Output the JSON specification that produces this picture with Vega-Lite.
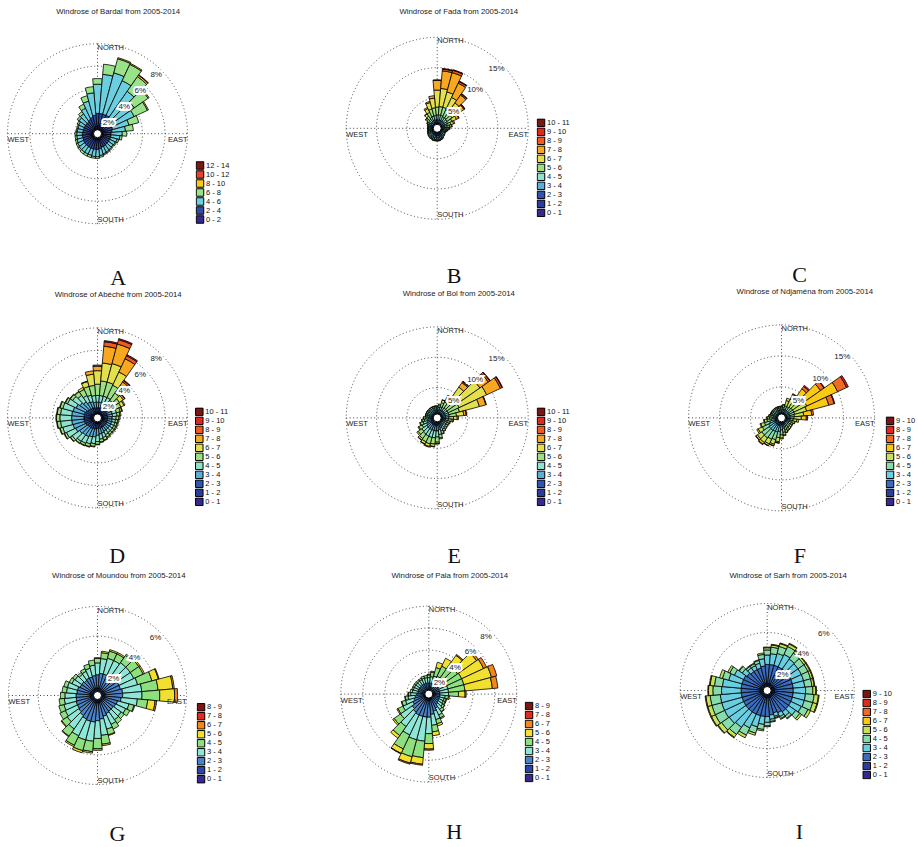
{
"$schema": "https://vega.github.io/schema/vega-lite/v6.json",
"background": "white",
"padding": {"left": 5.5, "top": 7, "right": 0, "bottom": 5},
"datasets": {"rose": [
{"p":"A","d":0,"v":[0.7,1.1,2.6,0.5]},{"p":"A","d":10,"v":[0.7,1.1,3.5,0.9]},{"p":"A","d":20,"v":[0.7,1.1,3.8,1.3,0.1]},{"p":"A","d":30,"v":[0.7,1.1,3.4,1.6,0.1]},{"p":"A","d":40,"v":[0.7,1.0,2.9,1.6,0.15,0.05]},{"p":"A","d":50,"v":[0.6,1.0,2.4,1.5,0.1]},{"p":"A","d":60,"v":[0.6,0.9,2.1,1.3,0.1]},{"p":"A","d":70,"v":[0.6,0.8,1.5,0.9]},{"p":"A","d":80,"v":[0.5,0.8,1.2,0.7]},{"p":"A","d":90,"v":[0.5,0.7,1.0,0.4]},{"p":"A","d":100,"v":[0.5,0.7,0.8,0.2]},{"p":"A","d":110,"v":[0.5,0.7,0.6,0.15]},{"p":"A","d":120,"v":[0.5,0.7,0.55,0.1]},{"p":"A","d":130,"v":[0.5,0.7,0.5,0.1]},{"p":"A","d":140,"v":[0.5,0.7,0.55,0.1]},{"p":"A","d":150,"v":[0.5,0.75,0.55,0.1]},{"p":"A","d":160,"v":[0.5,0.75,0.6,0.1]},{"p":"A","d":170,"v":[0.55,0.8,0.6,0.15]},{"p":"A","d":180,"v":[0.55,0.85,0.65,0.15]},{"p":"A","d":190,"v":[0.55,0.85,0.65,0.15]},{"p":"A","d":200,"v":[0.55,0.85,0.6,0.2]},{"p":"A","d":210,"v":[0.55,0.85,0.6,0.2]},{"p":"A","d":220,"v":[0.55,0.85,0.6,0.2]},{"p":"A","d":230,"v":[0.55,0.85,0.6,0.15]},{"p":"A","d":240,"v":[0.55,0.85,0.55,0.15]},{"p":"A","d":250,"v":[0.55,0.8,0.55,0.15]},{"p":"A","d":260,"v":[0.55,0.8,0.5,0.15]},{"p":"A","d":270,"v":[0.55,0.8,0.5,0.15]},{"p":"A","d":280,"v":[0.5,0.8,0.5,0.1]},{"p":"A","d":290,"v":[0.5,0.8,0.5,0.1]},{"p":"A","d":300,"v":[0.5,0.8,0.55,0.15]},{"p":"A","d":310,"v":[0.5,0.8,0.7,0.2]},{"p":"A","d":320,"v":[0.5,0.8,0.85,0.25]},{"p":"A","d":330,"v":[0.55,0.85,1.1,0.4]},{"p":"A","d":340,"v":[0.6,0.9,1.5,0.5]},{"p":"A","d":350,"v":[0.65,1.0,2.0,0.55]},
{"p":"B","d":0,"v":[0.2,0.3,0.4,0.5,0.8,1.3,2.8,1.6,0.1]},{"p":"B","d":10,"v":[0.2,0.3,0.4,0.5,0.8,1.4,3.0,2.9,0.3,0.1]},{"p":"B","d":20,"v":[0.2,0.3,0.4,0.5,0.8,1.4,2.6,3.3,0.4,0.1]},{"p":"B","d":30,"v":[0.2,0.3,0.4,0.5,0.7,1.3,2.2,2.6,0.3,0.1]},{"p":"B","d":40,"v":[0.2,0.3,0.4,0.5,0.7,1.2,1.8,1.6,0.2,0.1]},{"p":"B","d":50,"v":[0.2,0.3,0.4,0.5,0.6,1.0,1.4,1.0,0.15,0.05]},{"p":"B","d":60,"v":[0.2,0.3,0.4,0.5,0.5,0.8,0.8,0.4,0.1]},{"p":"B","d":70,"v":[0.2,0.3,0.35,0.45,0.45,0.6,0.45,0.2]},{"p":"B","d":80,"v":[0.2,0.3,0.35,0.4,0.4,0.45,0.3,0.1]},{"p":"B","d":90,"v":[0.2,0.3,0.35,0.4,0.35,0.3,0.15,0.05]},{"p":"B","d":100,"v":[0.27,0.36,0.4,0.36,0.23,0.13,0.05]},{"p":"B","d":110,"v":[0.24,0.32,0.35,0.32,0.21,0.11,0.05]},{"p":"B","d":120,"v":[0.23,0.3,0.33,0.3,0.19,0.1,0.05]},{"p":"B","d":130,"v":[0.24,0.32,0.35,0.32,0.21,0.11,0.05]},{"p":"B","d":140,"v":[0.26,0.34,0.37,0.34,0.22,0.12,0.05]},{"p":"B","d":150,"v":[0.28,0.38,0.42,0.38,0.25,0.13,0.06]},{"p":"B","d":160,"v":[0.3,0.4,0.44,0.4,0.26,0.14,0.06]},{"p":"B","d":170,"v":[0.31,0.42,0.46,0.42,0.28,0.15,0.06]},{"p":"B","d":180,"v":[0.31,0.42,0.46,0.42,0.28,0.15,0.06]},{"p":"B","d":190,"v":[0.31,0.42,0.46,0.42,0.28,0.15,0.06]},{"p":"B","d":200,"v":[0.31,0.42,0.46,0.42,0.28,0.15,0.06]},{"p":"B","d":210,"v":[0.3,0.4,0.44,0.4,0.26,0.14,0.06]},{"p":"B","d":220,"v":[0.3,0.4,0.44,0.4,0.26,0.14,0.06]},{"p":"B","d":230,"v":[0.28,0.38,0.42,0.38,0.25,0.13,0.06]},{"p":"B","d":240,"v":[0.27,0.36,0.4,0.36,0.23,0.13,0.05]},{"p":"B","d":250,"v":[0.26,0.34,0.37,0.34,0.22,0.12,0.05]},{"p":"B","d":260,"v":[0.24,0.32,0.35,0.32,0.21,0.11,0.05]},{"p":"B","d":270,"v":[0.24,0.32,0.35,0.32,0.21,0.11,0.05]},{"p":"B","d":280,"v":[0.24,0.32,0.35,0.32,0.21,0.11,0.05]},{"p":"B","d":290,"v":[0.26,0.34,0.37,0.34,0.22,0.12,0.05]},{"p":"B","d":300,"v":[0.2,0.3,0.35,0.35,0.3,0.25,0.1,0.05]},{"p":"B","d":310,"v":[0.2,0.3,0.35,0.4,0.4,0.45,0.25,0.05]},{"p":"B","d":320,"v":[0.2,0.3,0.4,0.45,0.5,0.6,0.45,0.1]},{"p":"B","d":330,"v":[0.2,0.3,0.4,0.5,0.6,0.9,0.7,0.2]},{"p":"B","d":340,"v":[0.2,0.3,0.4,0.5,0.7,1.2,1.1,0.2]},{"p":"B","d":350,"v":[0.2,0.3,0.4,0.5,0.7,1.3,1.6,0.4]},
{"p":"D","d":0,"v":[0.2,0.3,0.4,0.5,0.6,1.0,1.2,0.4,0.1]},{"p":"D","d":10,"v":[0.2,0.3,0.4,0.5,0.6,1.3,1.6,1.5,0.4,0.1]},{"p":"D","d":20,"v":[0.2,0.3,0.4,0.5,0.6,1.3,1.7,1.8,0.4,0.1]},{"p":"D","d":30,"v":[0.2,0.3,0.4,0.5,0.6,1.2,1.3,1.3,0.3,0.1]},{"p":"D","d":40,"v":[0.2,0.3,0.4,0.5,0.5,0.8,0.8,0.4,0.15,0.05]},{"p":"D","d":50,"v":[0.2,0.3,0.4,0.45,0.45,0.6,0.4,0.15,0.05]},{"p":"D","d":60,"v":[0.2,0.3,0.4,0.45,0.45,0.5,0.3,0.1]},{"p":"D","d":70,"v":[0.2,0.3,0.4,0.45,0.4,0.35,0.15,0.05]},{"p":"D","d":80,"v":[0.2,0.3,0.4,0.45,0.4,0.25,0.1]},{"p":"D","d":90,"v":[0.2,0.3,0.4,0.4,0.35,0.25,0.1]},{"p":"D","d":100,"v":[0.2,0.3,0.4,0.4,0.3,0.2,0.1]},{"p":"D","d":110,"v":[0.2,0.3,0.4,0.4,0.3,0.2,0.1]},{"p":"D","d":120,"v":[0.2,0.3,0.4,0.4,0.3,0.2,0.1]},{"p":"D","d":130,"v":[0.2,0.3,0.4,0.4,0.3,0.2,0.1]},{"p":"D","d":140,"v":[0.2,0.3,0.4,0.4,0.3,0.2,0.1]},{"p":"D","d":150,"v":[0.2,0.3,0.4,0.4,0.35,0.25,0.1]},{"p":"D","d":160,"v":[0.2,0.3,0.45,0.45,0.4,0.25,0.05]},{"p":"D","d":170,"v":[0.2,0.3,0.45,0.5,0.45,0.25,0.05]},{"p":"D","d":180,"v":[0.2,0.3,0.45,0.6,0.55,0.25,0.05]},{"p":"D","d":190,"v":[0.2,0.3,0.5,0.7,0.6,0.25,0.05]},{"p":"D","d":200,"v":[0.2,0.3,0.5,0.75,0.65,0.25,0.05]},{"p":"D","d":210,"v":[0.2,0.3,0.55,0.8,0.65,0.2,0.05]},{"p":"D","d":220,"v":[0.2,0.3,0.55,0.8,0.7,0.2,0.05]},{"p":"D","d":230,"v":[0.2,0.3,0.55,0.9,0.8,0.2,0.05]},{"p":"D","d":240,"v":[0.25,0.35,0.55,1.0,0.9,0.2,0.05]},{"p":"D","d":250,"v":[0.25,0.35,0.6,1.05,0.95,0.25,0.05]},{"p":"D","d":260,"v":[0.25,0.35,0.6,1.1,1.0,0.3,0.05]},{"p":"D","d":270,"v":[0.25,0.35,0.6,1.1,1.05,0.3,0.05]},{"p":"D","d":280,"v":[0.25,0.35,0.6,1.1,1.0,0.3,0.05]},{"p":"D","d":290,"v":[0.25,0.35,0.6,1.05,0.95,0.25,0.05]},{"p":"D","d":300,"v":[0.25,0.35,0.55,0.95,0.85,0.2,0.05]},{"p":"D","d":310,"v":[0.2,0.3,0.55,0.85,0.8,0.25,0.05]},{"p":"D","d":320,"v":[0.2,0.3,0.5,0.75,0.7,0.4,0.05]},{"p":"D","d":330,"v":[0.2,0.3,0.45,0.6,0.65,0.6,0.2]},{"p":"D","d":340,"v":[0.2,0.3,0.45,0.55,0.6,0.8,0.45,0.05]},{"p":"D","d":350,"v":[0.2,0.3,0.4,0.5,0.6,0.9,1.0,0.3]},
{"p":"E","d":0,"v":[0.2,0.3,0.4,0.4,0.35,0.25,0.1]},{"p":"E","d":10,"v":[0.2,0.3,0.4,0.45,0.4,0.4,0.15]},{"p":"E","d":20,"v":[0.2,0.3,0.4,0.5,0.5,0.7,0.45,0.05]},{"p":"E","d":30,"v":[0.2,0.3,0.4,0.5,0.5,1.0,1.0,0.2]},{"p":"E","d":40,"v":[0.2,0.3,0.4,0.5,0.6,1.6,2.6,0.9,0.2,0.1]},{"p":"E","d":50,"v":[0.2,0.3,0.4,0.5,0.6,2.0,4.6,1.7,0.3,0.1]},{"p":"E","d":60,"v":[0.2,0.3,0.4,0.5,0.6,2.0,5.0,2.5,0.3,0.1]},{"p":"E","d":70,"v":[0.2,0.3,0.4,0.5,0.6,1.8,3.4,1.1,0.1]},{"p":"E","d":80,"v":[0.2,0.3,0.4,0.5,0.6,1.2,1.2,0.4,0.1]},{"p":"E","d":90,"v":[0.2,0.3,0.4,0.5,0.5,0.8,0.6,0.2]},{"p":"E","d":100,"v":[0.2,0.3,0.4,0.5,0.45,0.5,0.3,0.05]},{"p":"E","d":110,"v":[0.2,0.3,0.4,0.45,0.4,0.4,0.15]},{"p":"E","d":120,"v":[0.2,0.3,0.4,0.45,0.4,0.35,0.1]},{"p":"E","d":130,"v":[0.2,0.3,0.4,0.45,0.4,0.35,0.1]},{"p":"E","d":140,"v":[0.2,0.3,0.45,0.5,0.45,0.3,0.1]},{"p":"E","d":150,"v":[0.2,0.3,0.5,0.55,0.5,0.35,0.1]},{"p":"E","d":160,"v":[0.2,0.3,0.5,0.65,0.6,0.45,0.1]},{"p":"E","d":170,"v":[0.25,0.35,0.55,0.8,0.8,0.6,0.15]},{"p":"E","d":180,"v":[0.25,0.4,0.6,0.9,1.0,0.85,0.25,0.05]},{"p":"E","d":190,"v":[0.25,0.4,0.6,0.9,1.15,1.05,0.4,0.05]},{"p":"E","d":200,"v":[0.25,0.4,0.6,0.9,1.2,1.1,0.45,0.1]},{"p":"E","d":210,"v":[0.25,0.4,0.6,0.9,1.15,1.05,0.4,0.05]},{"p":"E","d":220,"v":[0.25,0.4,0.6,0.9,1.1,0.9,0.3,0.05]},{"p":"E","d":230,"v":[0.25,0.4,0.6,0.85,1.0,0.75,0.25]},{"p":"E","d":240,"v":[0.25,0.35,0.55,0.8,0.8,0.6,0.15]},{"p":"E","d":250,"v":[0.2,0.3,0.5,0.7,0.7,0.5,0.1]},{"p":"E","d":260,"v":[0.2,0.3,0.5,0.6,0.55,0.4,0.05]},{"p":"E","d":270,"v":[0.2,0.3,0.45,0.5,0.45,0.35,0.05]},{"p":"E","d":280,"v":[0.2,0.3,0.4,0.45,0.35,0.25,0.05]},{"p":"E","d":290,"v":[0.2,0.3,0.4,0.45,0.35,0.25,0.05]},{"p":"E","d":300,"v":[0.2,0.3,0.4,0.45,0.35,0.25,0.05]},{"p":"E","d":310,"v":[0.2,0.3,0.4,0.45,0.35,0.25,0.05]},{"p":"E","d":320,"v":[0.2,0.3,0.4,0.45,0.35,0.25,0.05]},{"p":"E","d":330,"v":[0.2,0.3,0.4,0.45,0.35,0.25,0.05]},{"p":"E","d":340,"v":[0.2,0.3,0.4,0.45,0.35,0.25,0.05]},{"p":"E","d":350,"v":[0.2,0.3,0.4,0.45,0.35,0.25,0.05]},
{"p":"F","d":0,"v":[0.2,0.3,0.4,0.4,0.35,0.2,0.05]},{"p":"F","d":10,"v":[0.2,0.3,0.4,0.45,0.4,0.35,0.1]},{"p":"F","d":20,"v":[0.2,0.3,0.4,0.5,0.6,0.9,0.4]},{"p":"F","d":30,"v":[0.2,0.3,0.4,0.5,0.6,1.3,0.9,0.1]},{"p":"F","d":40,"v":[0.2,0.3,0.4,0.5,0.7,1.8,1.8,0.5,0.2]},{"p":"F","d":50,"v":[0.2,0.3,0.4,0.5,0.8,2.2,3.3,0.7,0.1]},{"p":"F","d":60,"v":[0.2,0.3,0.4,0.5,0.8,2.3,5.5,1.6,0.3]},{"p":"F","d":70,"v":[0.2,0.3,0.4,0.5,0.8,2.0,3.7,0.9,0.1]},{"p":"F","d":80,"v":[0.2,0.3,0.4,0.5,0.7,1.5,1.3,0.3]},{"p":"F","d":90,"v":[0.2,0.3,0.4,0.5,0.6,1.2,0.8,0.2]},{"p":"F","d":100,"v":[0.2,0.3,0.4,0.5,0.5,0.6,0.3]},{"p":"F","d":110,"v":[0.2,0.3,0.4,0.45,0.45,0.4,0.1]},{"p":"F","d":120,"v":[0.2,0.3,0.4,0.45,0.4,0.3,0.05]},{"p":"F","d":130,"v":[0.2,0.3,0.4,0.45,0.4,0.3,0.05]},{"p":"F","d":140,"v":[0.2,0.3,0.4,0.45,0.45,0.35,0.05]},{"p":"F","d":150,"v":[0.2,0.3,0.45,0.5,0.45,0.35,0.05]},{"p":"F","d":160,"v":[0.2,0.3,0.45,0.55,0.55,0.4,0.05]},{"p":"F","d":170,"v":[0.2,0.35,0.5,0.65,0.65,0.45,0.1]},{"p":"F","d":180,"v":[0.25,0.35,0.55,0.8,0.8,0.5,0.15]},{"p":"F","d":190,"v":[0.25,0.4,0.6,0.95,1.0,0.65,0.2,0.05]},{"p":"F","d":200,"v":[0.25,0.4,0.6,1.1,1.3,0.75,0.25,0.05]},{"p":"F","d":210,"v":[0.25,0.4,0.6,1.15,1.4,0.85,0.3,0.05]},{"p":"F","d":220,"v":[0.25,0.4,0.6,1.2,1.5,0.9,0.35,0.1]},{"p":"F","d":230,"v":[0.25,0.4,0.6,1.2,1.45,0.85,0.3,0.05]},{"p":"F","d":240,"v":[0.25,0.4,0.6,1.0,1.15,0.75,0.25]},{"p":"F","d":250,"v":[0.25,0.35,0.55,0.85,0.85,0.6,0.15]},{"p":"F","d":260,"v":[0.2,0.35,0.5,0.65,0.65,0.45,0.1]},{"p":"F","d":270,"v":[0.2,0.3,0.45,0.5,0.5,0.35,0.1]},{"p":"F","d":280,"v":[0.2,0.3,0.4,0.45,0.4,0.3,0.05]},{"p":"F","d":290,"v":[0.2,0.3,0.4,0.4,0.35,0.2,0.05]},{"p":"F","d":300,"v":[0.2,0.3,0.4,0.4,0.35,0.2,0.05]},{"p":"F","d":310,"v":[0.2,0.3,0.4,0.4,0.35,0.2,0.05]},{"p":"F","d":320,"v":[0.2,0.3,0.4,0.4,0.35,0.2,0.05]},{"p":"F","d":330,"v":[0.2,0.3,0.4,0.4,0.35,0.2,0.05]},{"p":"F","d":340,"v":[0.2,0.3,0.4,0.4,0.35,0.2,0.05]},{"p":"F","d":350,"v":[0.2,0.3,0.4,0.4,0.35,0.2,0.05]},
{"p":"G","d":0,"v":[0.1,0.4,0.9,0.8,0.3,0.05]},{"p":"G","d":10,"v":[0.1,0.4,1.0,1.0,0.4,0.1]},{"p":"G","d":20,"v":[0.1,0.4,1.0,1.1,0.5,0.1]},{"p":"G","d":30,"v":[0.1,0.4,1.0,1.1,0.5,0.1]},{"p":"G","d":40,"v":[0.1,0.4,1.05,1.15,0.6,0.1]},{"p":"G","d":50,"v":[0.1,0.4,1.1,1.1,0.7,0.1]},{"p":"G","d":60,"v":[0.1,0.4,1.1,1.1,0.7,0.1]},{"p":"G","d":70,"v":[0.1,0.4,1.1,1.2,1.0,0.45,0.05]},{"p":"G","d":80,"v":[0.1,0.4,1.2,1.3,1.1,1.0,0.1]},{"p":"G","d":90,"v":[0.1,0.4,1.2,1.3,1.2,1.0,0.2]},{"p":"G","d":100,"v":[0.1,0.4,1.1,1.1,0.7,0.5,0.1]},{"p":"G","d":110,"v":[0.1,0.4,0.9,0.8,0.35,0.05]},{"p":"G","d":120,"v":[0.1,0.4,0.85,0.75,0.3]},{"p":"G","d":130,"v":[0.1,0.4,0.8,0.65,0.25]},{"p":"G","d":140,"v":[0.1,0.4,0.8,0.7,0.3]},{"p":"G","d":150,"v":[0.1,0.4,0.85,0.8,0.35]},{"p":"G","d":160,"v":[0.1,0.4,0.95,0.9,0.4,0.05]},{"p":"G","d":170,"v":[0.1,0.4,1.1,1.1,0.6,0.1]},{"p":"G","d":180,"v":[0.1,0.4,1.2,1.2,0.7,0.1]},{"p":"G","d":190,"v":[0.1,0.4,1.3,1.3,0.7,0.1]},{"p":"G","d":200,"v":[0.1,0.4,1.3,1.3,0.75,0.15]},{"p":"G","d":210,"v":[0.1,0.4,1.25,1.25,0.7,0.1]},{"p":"G","d":220,"v":[0.1,0.4,1.15,1.1,0.6,0.05]},{"p":"G","d":230,"v":[0.1,0.4,1.05,0.95,0.45,0.05]},{"p":"G","d":240,"v":[0.1,0.4,1.0,0.9,0.4]},{"p":"G","d":250,"v":[0.1,0.4,1.0,0.85,0.35]},{"p":"G","d":260,"v":[0.1,0.4,0.95,0.8,0.35]},{"p":"G","d":270,"v":[0.1,0.4,0.95,0.75,0.3]},{"p":"G","d":280,"v":[0.1,0.4,0.9,0.7,0.3]},{"p":"G","d":290,"v":[0.1,0.4,0.9,0.7,0.25]},{"p":"G","d":300,"v":[0.1,0.4,0.8,0.6,0.2]},{"p":"G","d":310,"v":[0.1,0.4,0.8,0.55,0.2]},{"p":"G","d":320,"v":[0.1,0.4,0.75,0.5,0.15]},{"p":"G","d":330,"v":[0.1,0.4,0.8,0.5,0.2]},{"p":"G","d":340,"v":[0.1,0.4,0.8,0.6,0.3]},{"p":"G","d":350,"v":[0.1,0.4,0.85,0.7,0.35]},
{"p":"H","d":0,"v":[0.1,0.3,0.6,0.5,0.25,0.05]},{"p":"H","d":10,"v":[0.1,0.3,0.6,0.6,0.4,0.1]},{"p":"H","d":20,"v":[0.1,0.3,0.6,0.7,0.8,0.5]},{"p":"H","d":30,"v":[0.1,0.3,0.6,0.8,1.0,0.8]},{"p":"H","d":40,"v":[0.1,0.3,0.6,0.8,1.2,1.3,0.1]},{"p":"H","d":50,"v":[0.1,0.3,0.6,0.8,1.4,2.1,0.2]},{"p":"H","d":60,"v":[0.1,0.3,0.6,0.8,1.5,2.2,0.3]},{"p":"H","d":70,"v":[0.1,0.3,0.6,0.8,1.5,2.6,0.5]},{"p":"H","d":80,"v":[0.1,0.3,0.6,0.8,1.5,2.5,0.5]},{"p":"H","d":90,"v":[0.1,0.3,0.6,0.8,0.9,0.6,0.1]},{"p":"H","d":100,"v":[0.1,0.3,0.6,0.5,0.3,0.1]},{"p":"H","d":110,"v":[0.1,0.3,0.6,0.45,0.2,0.05]},{"p":"H","d":120,"v":[0.1,0.3,0.6,0.45,0.2,0.05]},{"p":"H","d":130,"v":[0.1,0.3,0.65,0.5,0.2,0.05]},{"p":"H","d":140,"v":[0.1,0.35,0.7,0.55,0.25,0.05]},{"p":"H","d":150,"v":[0.1,0.4,0.9,0.7,0.3,0.1]},{"p":"H","d":160,"v":[0.1,0.4,1.1,0.8,0.4,0.2]},{"p":"H","d":170,"v":[0.1,0.45,1.3,1.0,0.6,0.35]},{"p":"H","d":180,"v":[0.1,0.5,1.5,1.5,0.9,0.5,0.1]},{"p":"H","d":190,"v":[0.1,0.5,1.5,2.2,1.5,0.6,0.1]},{"p":"H","d":200,"v":[0.1,0.5,1.5,2.2,1.6,0.6,0.1]},{"p":"H","d":210,"v":[0.1,0.5,1.5,2.0,1.4,0.45,0.05]},{"p":"H","d":220,"v":[0.1,0.5,1.4,1.6,1.0,0.3]},{"p":"H","d":230,"v":[0.1,0.45,1.3,1.3,0.7,0.15]},{"p":"H","d":240,"v":[0.1,0.4,1.1,1.0,0.5,0.1]},{"p":"H","d":250,"v":[0.1,0.4,0.9,0.8,0.35,0.05]},{"p":"H","d":260,"v":[0.1,0.35,0.8,0.65,0.25,0.05]},{"p":"H","d":270,"v":[0.1,0.3,0.7,0.55,0.2,0.05]},{"p":"H","d":280,"v":[0.1,0.3,0.6,0.5,0.2]},{"p":"H","d":290,"v":[0.1,0.3,0.6,0.45,0.15]},{"p":"H","d":300,"v":[0.1,0.3,0.6,0.45,0.15]},{"p":"H","d":310,"v":[0.1,0.3,0.6,0.45,0.15]},{"p":"H","d":320,"v":[0.1,0.3,0.6,0.45,0.15]},{"p":"H","d":330,"v":[0.1,0.3,0.6,0.45,0.15]},{"p":"H","d":340,"v":[0.1,0.3,0.6,0.5,0.2]},{"p":"H","d":350,"v":[0.1,0.3,0.6,0.5,0.2]},
{"p":"I","d":0,"v":[0.1,0.4,1.3,0.65,0.35,0.15,0.05]},{"p":"I","d":10,"v":[0.1,0.4,1.3,0.75,0.45,0.15,0.05]},{"p":"I","d":20,"v":[0.1,0.4,1.3,0.85,0.5,0.2,0.05]},{"p":"I","d":30,"v":[0.1,0.4,1.3,0.95,0.6,0.2,0.05]},{"p":"I","d":40,"v":[0.1,0.4,1.3,0.85,0.5,0.2,0.05]},{"p":"I","d":50,"v":[0.1,0.4,1.3,0.8,0.5,0.15,0.05]},{"p":"I","d":60,"v":[0.1,0.4,1.3,0.8,0.5,0.15,0.05]},{"p":"I","d":70,"v":[0.1,0.4,1.3,0.8,0.5,0.15,0.05]},{"p":"I","d":80,"v":[0.1,0.4,1.3,0.8,0.5,0.15,0.05]},{"p":"I","d":90,"v":[0.1,0.4,1.3,0.85,0.5,0.2,0.05]},{"p":"I","d":100,"v":[0.1,0.4,1.3,0.85,0.6,0.3,0.05]},{"p":"I","d":110,"v":[0.1,0.4,1.3,0.85,0.6,0.3,0.05]},{"p":"I","d":120,"v":[0.1,0.4,1.3,0.8,0.5,0.2]},{"p":"I","d":130,"v":[0.1,0.4,1.3,0.6,0.35,0.15]},{"p":"I","d":140,"v":[0.1,0.4,1.3,0.35,0.2,0.05]},{"p":"I","d":150,"v":[0.1,0.4,1.2,0.3,0.15,0.05]},{"p":"I","d":160,"v":[0.1,0.4,1.1,0.25,0.1,0.05]},{"p":"I","d":170,"v":[0.1,0.4,1.2,0.3,0.15,0.05]},{"p":"I","d":180,"v":[0.1,0.4,1.3,0.4,0.25,0.05]},{"p":"I","d":190,"v":[0.1,0.4,1.3,0.55,0.35,0.1]},{"p":"I","d":200,"v":[0.1,0.4,1.3,0.8,0.45,0.15]},{"p":"I","d":210,"v":[0.1,0.4,1.3,1.05,0.55,0.2]},{"p":"I","d":220,"v":[0.1,0.4,1.3,1.3,0.6,0.25,0.05]},{"p":"I","d":230,"v":[0.1,0.4,1.3,1.4,0.65,0.3,0.05]},{"p":"I","d":240,"v":[0.1,0.4,1.3,1.45,0.7,0.3,0.05]},{"p":"I","d":250,"v":[0.1,0.4,1.3,1.45,0.7,0.3,0.05]},{"p":"I","d":260,"v":[0.1,0.4,1.3,1.45,0.7,0.3,0.05]},{"p":"I","d":270,"v":[0.1,0.4,1.3,1.35,0.6,0.3,0.05]},{"p":"I","d":280,"v":[0.1,0.4,1.3,1.3,0.55,0.3,0.05]},{"p":"I","d":290,"v":[0.1,0.4,1.3,0.95,0.45,0.2]},{"p":"I","d":300,"v":[0.1,0.4,1.3,0.7,0.35,0.15]},{"p":"I","d":310,"v":[0.1,0.4,1.2,0.4,0.25,0.05]},{"p":"I","d":320,"v":[0.1,0.4,1.1,0.3,0.15,0.05]},{"p":"I","d":330,"v":[0.1,0.4,1.1,0.3,0.15,0.05]},{"p":"I","d":340,"v":[0.1,0.4,1.1,0.35,0.2,0.05]},{"p":"I","d":350,"v":[0.1,0.4,1.2,0.5,0.3,0.1]}
]},
"concat": [
{"width": 180, "height": 207.4, "title": {"text": "Windrose of Bardaï from 2005-2014", "dx": 20.7, "offset": 14.5},
"layer": [
{"data": {"values": [{"x1": -8, "x2": 8, "y1": 0, "y2": 0}, {"x1": 0, "x2": 0, "y1": -8, "y2": 8}]}, "mark": {"type": "rule", "stroke": "#444", "strokeWidth": 1, "strokeDash": [1, 2.5]}, "encoding": {"x": {"field": "x1", "type": "quantitative", "scale": {"domain": [-8, 8], "range": [0, 180], "nice": false, "zero": false}, "axis": null}, "x2": {"field": "x2"}, "y": {"field": "y1", "type": "quantitative", "scale": {"domain": [-8, 8], "range": [193.7, 13.7], "nice": false, "zero": false}, "axis": null}, "y2": {"field": "y2"}}},
{"data": {"values": [{"r": 2}, {"r": 4}, {"r": 6}, {"r": 8}]}, "mark": {"type": "arc", "filled": false, "theta": 0, "theta2": 6.2832, "stroke": "#444", "strokeWidth": 1, "strokeDash": [1, 2.5]}, "encoding": {"radius": {"field": "r", "type": "quantitative", "stack": null, "scale": {"type": "linear", "domain": [0, 8], "range": [0, 90], "nice": false}}}},
{"data": {"name": "rose"}, "transform": [{"filter": "datum.p === 'A'"}, {"flatten": ["v"]}, {"window": [{"op": "row_number", "as": "i"}, {"op": "sum", "field": "v", "as": "r1"}], "groupby": ["d"], "frame": [null, 0]}, {"calculate": "datum.r1 - datum.v", "as": "r0"}, {"calculate": "datum.d - 5", "as": "a0"}, {"calculate": "datum.d + 5", "as": "a1"}],
 "mark": {"type": "arc", "stroke": "black", "strokeWidth": 0.8},
 "encoding": {"theta": {"field": "a0", "type": "quantitative", "stack": null, "scale": {"domain": [0, 360], "range": [0, 6.2832], "nice": false}}, "theta2": {"field": "a1"}, "radius": {"field": "r1", "type": "quantitative", "stack": null, "scale": {"type": "linear", "domain": [0, 8], "range": [0, 90], "nice": false}}, "radius2": {"field": "r0"},
  "color": {"field": "i", "type": "ordinal", "scale": {"domain": [7, 6, 5, 4, 3, 2, 1], "range": ["#7A1818", "#E8432A", "#F8CA1C", "#98E28A", "#6CCFE0", "#2E4CA8", "#36298E"]}, "legend": {"orient": "none", "legendX": 188, "legendY": 131, "title": null, "labelExpr": "['0 - 2','2 - 4','4 - 6','6 - 8','8 - 10','10 - 12','12 - 14'][datum.value - 1]"}}}},
{"data": {"values": [{}]}, "mark": {"type": "arc", "theta": 0, "theta2": 6.2832, "radius": 4, "fill": "white", "stroke": "black", "strokeWidth": 1}, "encoding": {}},
{"data": {"values": [{"r": 2, "t": "2%"}, {"r": 4, "t": "4%"}, {"r": 6, "t": "6%"}, {"r": 8, "t": "8%"}]}, "mark": {"type": "text", "radiusOffset": -7, "fontSize": 8, "color": "white", "stroke": "white", "strokeWidth": 4}, "encoding": {"theta": {"datum": 45, "type": "quantitative", "scale": {"domain": [0, 360], "range": [0, 6.2832], "nice": false}}, "radius": {"field": "r", "type": "quantitative", "stack": null, "scale": {"type": "linear", "domain": [0, 8], "range": [0, 90], "nice": false}}, "text": {"field": "t"}}},
{"data": {"values": [{"r": 2, "t": "2%"}, {"r": 4, "t": "4%"}, {"r": 6, "t": "6%"}, {"r": 8, "t": "8%"}]}, "mark": {"type": "text", "radiusOffset": -7, "fontSize": 8, "color": "#222"}, "encoding": {"theta": {"datum": 45, "type": "quantitative", "scale": {"domain": [0, 360], "range": [0, 6.2832], "nice": false}}, "radius": {"field": "r", "type": "quantitative", "stack": null, "scale": {"type": "linear", "domain": [0, 8], "range": [0, 90], "nice": false}}, "text": {"field": "t"}}},
{"data": {"values": [{"t": "NORTH", "a": 0}, {"t": "SOUTH", "a": 180}]}, "mark": {"type": "text", "align": "left", "baseline": "middle", "radiusOffset": -4}, "encoding": {"theta": {"field": "a", "type": "quantitative", "scale": {"domain": [0, 360], "range": [0, 6.2832], "nice": false}}, "radius": {"datum": 8, "type": "quantitative", "scale": {"type": "linear", "domain": [0, 8], "range": [0, 90], "nice": false}}, "text": {"field": "t"}}},
{"data": {"values": [{"t": "EAST", "a": 90}]}, "mark": {"type": "text", "align": "right", "baseline": "top", "dy": 2.5}, "encoding": {"theta": {"field": "a", "type": "quantitative", "scale": {"domain": [0, 360], "range": [0, 6.2832], "nice": false}}, "radius": {"datum": 8, "type": "quantitative", "scale": {"type": "linear", "domain": [0, 8], "range": [0, 90], "nice": false}}, "text": {"field": "t"}}},
{"data": {"values": [{"t": "WEST", "a": 270}]}, "mark": {"type": "text", "align": "left", "baseline": "top", "dy": 2.5}, "encoding": {"theta": {"field": "a", "type": "quantitative", "scale": {"domain": [0, 360], "range": [0, 6.2832], "nice": false}}, "radius": {"datum": 8, "type": "quantitative", "scale": {"type": "linear", "domain": [0, 8], "range": [0, 90], "nice": false}}, "text": {"field": "t"}}},
{"data": {"values": [{"t": "A"}]}, "mark": {"type": "text", "font": "Liberation Serif", "fontSize": 22, "color": "#111", "baseline": "middle", "dx": 20.7, "dy": 144}, "encoding": {"text": {"field": "t"}}}
]},
{"width": 182, "height": 196.6, "title": {"text": "Windrose of Fada from 2005-2014", "dx": 21.6, "offset": 14.5},
"layer": [
{"data": {"values": [{"x1": -15, "x2": 15, "y1": 0, "y2": 0}, {"x1": 0, "x2": 0, "y1": -15, "y2": 15}]}, "mark": {"type": "rule", "stroke": "#444", "strokeWidth": 1, "strokeDash": [1, 2.5]}, "encoding": {"x": {"field": "x1", "type": "quantitative", "scale": {"domain": [-15, 15], "range": [0, 182], "nice": false, "zero": false}, "axis": null}, "x2": {"field": "x2"}, "y": {"field": "y1", "type": "quantitative", "scale": {"domain": [-15, 15], "range": [189.3, 7.3], "nice": false, "zero": false}, "axis": null}, "y2": {"field": "y2"}}},
{"data": {"values": [{"r": 5}, {"r": 10}, {"r": 15}]}, "mark": {"type": "arc", "filled": false, "theta": 0, "theta2": 6.2832, "stroke": "#444", "strokeWidth": 1, "strokeDash": [1, 2.5]}, "encoding": {"radius": {"field": "r", "type": "quantitative", "stack": null, "scale": {"type": "linear", "domain": [0, 15], "range": [0, 91], "nice": false}}}},
{"data": {"name": "rose"}, "transform": [{"filter": "datum.p === 'B'"}, {"flatten": ["v"]}, {"window": [{"op": "row_number", "as": "i"}, {"op": "sum", "field": "v", "as": "r1"}], "groupby": ["d"], "frame": [null, 0]}, {"calculate": "datum.r1 - datum.v", "as": "r0"}, {"calculate": "datum.d - 5", "as": "a0"}, {"calculate": "datum.d + 5", "as": "a1"}],
 "mark": {"type": "arc", "stroke": "black", "strokeWidth": 0.8},
 "encoding": {"theta": {"field": "a0", "type": "quantitative", "stack": null, "scale": {"domain": [0, 360], "range": [0, 6.2832], "nice": false}}, "theta2": {"field": "a1"}, "radius": {"field": "r1", "type": "quantitative", "stack": null, "scale": {"type": "linear", "domain": [0, 15], "range": [0, 91], "nice": false}}, "radius2": {"field": "r0"},
  "color": {"field": "i", "type": "ordinal", "scale": {"domain": [11, 10, 9, 8, 7, 6, 5, 4, 3, 2, 1], "range": ["#7A1616", "#E0281E", "#F05A20", "#F7A820", "#E2E04E", "#9CE082", "#8EE2CE", "#5AAED9", "#2F56AB", "#2B3D9A", "#36298F"]}, "legend": {"orient": "none", "legendX": 190.3, "legendY": 88.3, "title": null, "labelExpr": "['0 - 1','1 - 2','2 - 3','3 - 4','4 - 5','5 - 6','6 - 7','7 - 8','8 - 9','9 - 10','10 - 11'][datum.value - 1]"}}}},
{"data": {"values": [{}]}, "mark": {"type": "arc", "theta": 0, "theta2": 6.2832, "radius": 4, "fill": "white", "stroke": "black", "strokeWidth": 1}, "encoding": {}},
{"data": {"values": [{"r": 5, "t": "5%"}, {"r": 10, "t": "10%"}, {"r": 15, "t": "15%"}]}, "mark": {"type": "text", "radiusOffset": -7, "fontSize": 8, "color": "white", "stroke": "white", "strokeWidth": 4}, "encoding": {"theta": {"datum": 45, "type": "quantitative", "scale": {"domain": [0, 360], "range": [0, 6.2832], "nice": false}}, "radius": {"field": "r", "type": "quantitative", "stack": null, "scale": {"type": "linear", "domain": [0, 15], "range": [0, 91], "nice": false}}, "text": {"field": "t"}}},
{"data": {"values": [{"r": 5, "t": "5%"}, {"r": 10, "t": "10%"}, {"r": 15, "t": "15%"}]}, "mark": {"type": "text", "radiusOffset": -7, "fontSize": 8, "color": "#222"}, "encoding": {"theta": {"datum": 45, "type": "quantitative", "scale": {"domain": [0, 360], "range": [0, 6.2832], "nice": false}}, "radius": {"field": "r", "type": "quantitative", "stack": null, "scale": {"type": "linear", "domain": [0, 15], "range": [0, 91], "nice": false}}, "text": {"field": "t"}}},
{"data": {"values": [{"t": "NORTH", "a": 0}, {"t": "SOUTH", "a": 180}]}, "mark": {"type": "text", "align": "left", "baseline": "middle", "radiusOffset": -4}, "encoding": {"theta": {"field": "a", "type": "quantitative", "scale": {"domain": [0, 360], "range": [0, 6.2832], "nice": false}}, "radius": {"datum": 15, "type": "quantitative", "scale": {"type": "linear", "domain": [0, 15], "range": [0, 91], "nice": false}}, "text": {"field": "t"}}},
{"data": {"values": [{"t": "EAST", "a": 90}]}, "mark": {"type": "text", "align": "right", "baseline": "top", "dy": 2.5}, "encoding": {"theta": {"field": "a", "type": "quantitative", "scale": {"domain": [0, 360], "range": [0, 6.2832], "nice": false}}, "radius": {"datum": 15, "type": "quantitative", "scale": {"type": "linear", "domain": [0, 15], "range": [0, 91], "nice": false}}, "text": {"field": "t"}}},
{"data": {"values": [{"t": "WEST", "a": 270}]}, "mark": {"type": "text", "align": "left", "baseline": "top", "dy": 2.5}, "encoding": {"theta": {"field": "a", "type": "quantitative", "scale": {"domain": [0, 360], "range": [0, 6.2832], "nice": false}}, "radius": {"datum": 15, "type": "quantitative", "scale": {"type": "linear", "domain": [0, 15], "range": [0, 91], "nice": false}}, "text": {"field": "t"}}},
{"data": {"values": [{"t": "B"}]}, "mark": {"type": "text", "font": "Liberation Serif", "fontSize": 22, "color": "#111", "baseline": "middle", "dx": 17, "dy": 147.7}, "encoding": {"text": {"field": "t"}}}
]},
{"width": 180, "height": 180, "data": {"values": [{"t": "C"}]}, "mark": {"type": "text", "font": "Liberation Serif", "fontSize": 22, "color": "#111", "baseline": "middle", "dx": 22.6, "dy": 155}, "encoding": {"text": {"field": "t"}}},
{"width": 180, "height": 181.8, "title": {"text": "Windrose of Abéché from 2005-2014", "dx": 20.7, "offset": 26.9},
"layer": [
{"data": {"values": [{"x1": -8, "x2": 8, "y1": 0, "y2": 0}, {"x1": 0, "x2": 0, "y1": -8, "y2": 8}]}, "mark": {"type": "rule", "stroke": "#444", "strokeWidth": 1, "strokeDash": [1, 2.5]}, "encoding": {"x": {"field": "x1", "type": "quantitative", "scale": {"domain": [-8, 8], "range": [0, 180], "nice": false, "zero": false}, "axis": null}, "x2": {"field": "x2"}, "y": {"field": "y1", "type": "quantitative", "scale": {"domain": [-8, 8], "range": [180.9, 0.9], "nice": false, "zero": false}, "axis": null}, "y2": {"field": "y2"}}},
{"data": {"values": [{"r": 2}, {"r": 4}, {"r": 6}, {"r": 8}]}, "mark": {"type": "arc", "filled": false, "theta": 0, "theta2": 6.2832, "stroke": "#444", "strokeWidth": 1, "strokeDash": [1, 2.5]}, "encoding": {"radius": {"field": "r", "type": "quantitative", "stack": null, "scale": {"type": "linear", "domain": [0, 8], "range": [0, 90], "nice": false}}}},
{"data": {"name": "rose"}, "transform": [{"filter": "datum.p === 'D'"}, {"flatten": ["v"]}, {"window": [{"op": "row_number", "as": "i"}, {"op": "sum", "field": "v", "as": "r1"}], "groupby": ["d"], "frame": [null, 0]}, {"calculate": "datum.r1 - datum.v", "as": "r0"}, {"calculate": "datum.d - 5", "as": "a0"}, {"calculate": "datum.d + 5", "as": "a1"}],
 "mark": {"type": "arc", "stroke": "black", "strokeWidth": 0.8},
 "encoding": {"theta": {"field": "a0", "type": "quantitative", "stack": null, "scale": {"domain": [0, 360], "range": [0, 6.2832], "nice": false}}, "theta2": {"field": "a1"}, "radius": {"field": "r1", "type": "quantitative", "stack": null, "scale": {"type": "linear", "domain": [0, 8], "range": [0, 90], "nice": false}}, "radius2": {"field": "r0"},
  "color": {"field": "i", "type": "ordinal", "scale": {"domain": [11, 10, 9, 8, 7, 6, 5, 4, 3, 2, 1], "range": ["#7A1616", "#E0281E", "#F05A20", "#F7A820", "#E2E04E", "#9CE082", "#8EE2CE", "#5AAED9", "#2F56AB", "#2B3D9A", "#36298F"]}, "legend": {"orient": "none", "legendX": 187.3, "legendY": 80.3, "title": null, "labelExpr": "['0 - 1','1 - 2','2 - 3','3 - 4','4 - 5','5 - 6','6 - 7','7 - 8','8 - 9','9 - 10','10 - 11'][datum.value - 1]"}}}},
{"data": {"values": [{}]}, "mark": {"type": "arc", "theta": 0, "theta2": 6.2832, "radius": 4, "fill": "white", "stroke": "black", "strokeWidth": 1}, "encoding": {}},
{"data": {"values": [{"r": 2, "t": "2%"}, {"r": 4, "t": "4%"}, {"r": 6, "t": "6%"}, {"r": 8, "t": "8%"}]}, "mark": {"type": "text", "radiusOffset": -7, "fontSize": 8, "color": "white", "stroke": "white", "strokeWidth": 4}, "encoding": {"theta": {"datum": 45, "type": "quantitative", "scale": {"domain": [0, 360], "range": [0, 6.2832], "nice": false}}, "radius": {"field": "r", "type": "quantitative", "stack": null, "scale": {"type": "linear", "domain": [0, 8], "range": [0, 90], "nice": false}}, "text": {"field": "t"}}},
{"data": {"values": [{"r": 2, "t": "2%"}, {"r": 4, "t": "4%"}, {"r": 6, "t": "6%"}, {"r": 8, "t": "8%"}]}, "mark": {"type": "text", "radiusOffset": -7, "fontSize": 8, "color": "#222"}, "encoding": {"theta": {"datum": 45, "type": "quantitative", "scale": {"domain": [0, 360], "range": [0, 6.2832], "nice": false}}, "radius": {"field": "r", "type": "quantitative", "stack": null, "scale": {"type": "linear", "domain": [0, 8], "range": [0, 90], "nice": false}}, "text": {"field": "t"}}},
{"data": {"values": [{"t": "NORTH", "a": 0}, {"t": "SOUTH", "a": 180}]}, "mark": {"type": "text", "align": "left", "baseline": "middle", "radiusOffset": -4}, "encoding": {"theta": {"field": "a", "type": "quantitative", "scale": {"domain": [0, 360], "range": [0, 6.2832], "nice": false}}, "radius": {"datum": 8, "type": "quantitative", "scale": {"type": "linear", "domain": [0, 8], "range": [0, 90], "nice": false}}, "text": {"field": "t"}}},
{"data": {"values": [{"t": "EAST", "a": 90}]}, "mark": {"type": "text", "align": "right", "baseline": "top", "dy": 2.5}, "encoding": {"theta": {"field": "a", "type": "quantitative", "scale": {"domain": [0, 360], "range": [0, 6.2832], "nice": false}}, "radius": {"datum": 8, "type": "quantitative", "scale": {"type": "linear", "domain": [0, 8], "range": [0, 90], "nice": false}}, "text": {"field": "t"}}},
{"data": {"values": [{"t": "WEST", "a": 270}]}, "mark": {"type": "text", "align": "left", "baseline": "top", "dy": 2.5}, "encoding": {"theta": {"field": "a", "type": "quantitative", "scale": {"domain": [0, 360], "range": [0, 6.2832], "nice": false}}, "radius": {"datum": 8, "type": "quantitative", "scale": {"type": "linear", "domain": [0, 8], "range": [0, 90], "nice": false}}, "text": {"field": "t"}}},
{"data": {"values": [{"t": "D"}]}, "mark": {"type": "text", "font": "Liberation Serif", "fontSize": 22, "color": "#111", "baseline": "middle", "dx": 19.7, "dy": 138.4}, "encoding": {"text": {"field": "t"}}}
]},
{"width": 182, "height": 181.8, "title": {"text": "Windrose of Bol from 2005-2014", "dx": 21.6, "offset": 26.9},
"layer": [
{"data": {"values": [{"x1": -15, "x2": 15, "y1": 0, "y2": 0}, {"x1": 0, "x2": 0, "y1": -15, "y2": 15}]}, "mark": {"type": "rule", "stroke": "#444", "strokeWidth": 1, "strokeDash": [1, 2.5]}, "encoding": {"x": {"field": "x1", "type": "quantitative", "scale": {"domain": [-15, 15], "range": [0, 182], "nice": false, "zero": false}, "axis": null}, "x2": {"field": "x2"}, "y": {"field": "y1", "type": "quantitative", "scale": {"domain": [-15, 15], "range": [181.9, -0.1], "nice": false, "zero": false}, "axis": null}, "y2": {"field": "y2"}}},
{"data": {"values": [{"r": 5}, {"r": 10}, {"r": 15}]}, "mark": {"type": "arc", "filled": false, "theta": 0, "theta2": 6.2832, "stroke": "#444", "strokeWidth": 1, "strokeDash": [1, 2.5]}, "encoding": {"radius": {"field": "r", "type": "quantitative", "stack": null, "scale": {"type": "linear", "domain": [0, 15], "range": [0, 91], "nice": false}}}},
{"data": {"name": "rose"}, "transform": [{"filter": "datum.p === 'E'"}, {"flatten": ["v"]}, {"window": [{"op": "row_number", "as": "i"}, {"op": "sum", "field": "v", "as": "r1"}], "groupby": ["d"], "frame": [null, 0]}, {"calculate": "datum.r1 - datum.v", "as": "r0"}, {"calculate": "datum.d - 5", "as": "a0"}, {"calculate": "datum.d + 5", "as": "a1"}],
 "mark": {"type": "arc", "stroke": "black", "strokeWidth": 0.8},
 "encoding": {"theta": {"field": "a0", "type": "quantitative", "stack": null, "scale": {"domain": [0, 360], "range": [0, 6.2832], "nice": false}}, "theta2": {"field": "a1"}, "radius": {"field": "r1", "type": "quantitative", "stack": null, "scale": {"type": "linear", "domain": [0, 15], "range": [0, 91], "nice": false}}, "radius2": {"field": "r0"},
  "color": {"field": "i", "type": "ordinal", "scale": {"domain": [11, 10, 9, 8, 7, 6, 5, 4, 3, 2, 1], "range": ["#7A1616", "#E0281E", "#F05A20", "#F7A820", "#E2E04E", "#9CE082", "#8EE2CE", "#5AAED9", "#2F56AB", "#2B3D9A", "#36298F"]}, "legend": {"orient": "none", "legendX": 190.3, "legendY": 80.3, "title": null, "labelExpr": "['0 - 1','1 - 2','2 - 3','3 - 4','4 - 5','5 - 6','6 - 7','7 - 8','8 - 9','9 - 10','10 - 11'][datum.value - 1]"}}}},
{"data": {"values": [{}]}, "mark": {"type": "arc", "theta": 0, "theta2": 6.2832, "radius": 4, "fill": "white", "stroke": "black", "strokeWidth": 1}, "encoding": {}},
{"data": {"values": [{"r": 5, "t": "5%"}, {"r": 10, "t": "10%"}, {"r": 15, "t": "15%"}]}, "mark": {"type": "text", "radiusOffset": -7, "fontSize": 8, "color": "white", "stroke": "white", "strokeWidth": 4}, "encoding": {"theta": {"datum": 45, "type": "quantitative", "scale": {"domain": [0, 360], "range": [0, 6.2832], "nice": false}}, "radius": {"field": "r", "type": "quantitative", "stack": null, "scale": {"type": "linear", "domain": [0, 15], "range": [0, 91], "nice": false}}, "text": {"field": "t"}}},
{"data": {"values": [{"r": 5, "t": "5%"}, {"r": 10, "t": "10%"}, {"r": 15, "t": "15%"}]}, "mark": {"type": "text", "radiusOffset": -7, "fontSize": 8, "color": "#222"}, "encoding": {"theta": {"datum": 45, "type": "quantitative", "scale": {"domain": [0, 360], "range": [0, 6.2832], "nice": false}}, "radius": {"field": "r", "type": "quantitative", "stack": null, "scale": {"type": "linear", "domain": [0, 15], "range": [0, 91], "nice": false}}, "text": {"field": "t"}}},
{"data": {"values": [{"t": "NORTH", "a": 0}, {"t": "SOUTH", "a": 180}]}, "mark": {"type": "text", "align": "left", "baseline": "middle", "radiusOffset": -4}, "encoding": {"theta": {"field": "a", "type": "quantitative", "scale": {"domain": [0, 360], "range": [0, 6.2832], "nice": false}}, "radius": {"datum": 15, "type": "quantitative", "scale": {"type": "linear", "domain": [0, 15], "range": [0, 91], "nice": false}}, "text": {"field": "t"}}},
{"data": {"values": [{"t": "EAST", "a": 90}]}, "mark": {"type": "text", "align": "right", "baseline": "top", "dy": 2.5}, "encoding": {"theta": {"field": "a", "type": "quantitative", "scale": {"domain": [0, 360], "range": [0, 6.2832], "nice": false}}, "radius": {"datum": 15, "type": "quantitative", "scale": {"type": "linear", "domain": [0, 15], "range": [0, 91], "nice": false}}, "text": {"field": "t"}}},
{"data": {"values": [{"t": "WEST", "a": 270}]}, "mark": {"type": "text", "align": "left", "baseline": "top", "dy": 2.5}, "encoding": {"theta": {"field": "a", "type": "quantitative", "scale": {"domain": [0, 360], "range": [0, 6.2832], "nice": false}}, "radius": {"datum": 15, "type": "quantitative", "scale": {"type": "linear", "domain": [0, 15], "range": [0, 91], "nice": false}}, "text": {"field": "t"}}},
{"data": {"values": [{"t": "E"}]}, "mark": {"type": "text", "font": "Liberation Serif", "fontSize": 22, "color": "#111", "baseline": "middle", "dx": 17, "dy": 138.4}, "encoding": {"text": {"field": "t"}}}
]},
{"width": 189.2, "height": 181.8, "title": {"text": "Windrose of Ndjaména from 2005-2014", "dx": 23.3, "offset": 26.9},
"layer": [
{"data": {"values": [{"x1": -15, "x2": 15, "y1": 0, "y2": 0}, {"x1": 0, "x2": 0, "y1": -15, "y2": 15}]}, "mark": {"type": "rule", "stroke": "#444", "strokeWidth": 1, "strokeDash": [1, 2.5]}, "encoding": {"x": {"field": "x1", "type": "quantitative", "scale": {"domain": [-15, 15], "range": [1.6, 187.6], "nice": false, "zero": false}, "axis": null}, "x2": {"field": "x2"}, "y": {"field": "y1", "type": "quantitative", "scale": {"domain": [-15, 15], "range": [183.9, -2.1], "nice": false, "zero": false}, "axis": null}, "y2": {"field": "y2"}}},
{"data": {"values": [{"r": 5}, {"r": 10}, {"r": 15}]}, "mark": {"type": "arc", "filled": false, "theta": 0, "theta2": 6.2832, "stroke": "#444", "strokeWidth": 1, "strokeDash": [1, 2.5]}, "encoding": {"radius": {"field": "r", "type": "quantitative", "stack": null, "scale": {"type": "linear", "domain": [0, 15], "range": [0, 93], "nice": false}}}},
{"data": {"name": "rose"}, "transform": [{"filter": "datum.p === 'F'"}, {"flatten": ["v"]}, {"window": [{"op": "row_number", "as": "i"}, {"op": "sum", "field": "v", "as": "r1"}], "groupby": ["d"], "frame": [null, 0]}, {"calculate": "datum.r1 - datum.v", "as": "r0"}, {"calculate": "datum.d - 5", "as": "a0"}, {"calculate": "datum.d + 5", "as": "a1"}],
 "mark": {"type": "arc", "stroke": "black", "strokeWidth": 0.8},
 "encoding": {"theta": {"field": "a0", "type": "quantitative", "stack": null, "scale": {"domain": [0, 360], "range": [0, 6.2832], "nice": false}}, "theta2": {"field": "a1"}, "radius": {"field": "r1", "type": "quantitative", "stack": null, "scale": {"type": "linear", "domain": [0, 15], "range": [0, 93], "nice": false}}, "radius2": {"field": "r0"},
  "color": {"field": "i", "type": "ordinal", "scale": {"domain": [10, 9, 8, 7, 6, 5, 4, 3, 2, 1], "range": ["#7A1616", "#E0281E", "#F06A24", "#FACA12", "#C4E25A", "#88DCAC", "#6ACEE2", "#3A6CBE", "#2B3E9C", "#36298F"]}, "legend": {"orient": "none", "legendX": 198.6, "legendY": 89.3, "title": null, "labelExpr": "['0 - 1','1 - 2','2 - 3','3 - 4','4 - 5','5 - 6','6 - 7','7 - 8','8 - 9','9 - 10'][datum.value - 1]"}}}},
{"data": {"values": [{}]}, "mark": {"type": "arc", "theta": 0, "theta2": 6.2832, "radius": 4, "fill": "white", "stroke": "black", "strokeWidth": 1}, "encoding": {}},
{"data": {"values": [{"r": 5, "t": "5%"}, {"r": 10, "t": "10%"}, {"r": 15, "t": "15%"}]}, "mark": {"type": "text", "radiusOffset": -7, "fontSize": 8, "color": "white", "stroke": "white", "strokeWidth": 4}, "encoding": {"theta": {"datum": 45, "type": "quantitative", "scale": {"domain": [0, 360], "range": [0, 6.2832], "nice": false}}, "radius": {"field": "r", "type": "quantitative", "stack": null, "scale": {"type": "linear", "domain": [0, 15], "range": [0, 93], "nice": false}}, "text": {"field": "t"}}},
{"data": {"values": [{"r": 5, "t": "5%"}, {"r": 10, "t": "10%"}, {"r": 15, "t": "15%"}]}, "mark": {"type": "text", "radiusOffset": -7, "fontSize": 8, "color": "#222"}, "encoding": {"theta": {"datum": 45, "type": "quantitative", "scale": {"domain": [0, 360], "range": [0, 6.2832], "nice": false}}, "radius": {"field": "r", "type": "quantitative", "stack": null, "scale": {"type": "linear", "domain": [0, 15], "range": [0, 93], "nice": false}}, "text": {"field": "t"}}},
{"data": {"values": [{"t": "NORTH", "a": 0}, {"t": "SOUTH", "a": 180}]}, "mark": {"type": "text", "align": "left", "baseline": "middle", "radiusOffset": -4}, "encoding": {"theta": {"field": "a", "type": "quantitative", "scale": {"domain": [0, 360], "range": [0, 6.2832], "nice": false}}, "radius": {"datum": 15, "type": "quantitative", "scale": {"type": "linear", "domain": [0, 15], "range": [0, 93], "nice": false}}, "text": {"field": "t"}}},
{"data": {"values": [{"t": "EAST", "a": 90}]}, "mark": {"type": "text", "align": "right", "baseline": "top", "dy": 2.5}, "encoding": {"theta": {"field": "a", "type": "quantitative", "scale": {"domain": [0, 360], "range": [0, 6.2832], "nice": false}}, "radius": {"datum": 15, "type": "quantitative", "scale": {"type": "linear", "domain": [0, 15], "range": [0, 93], "nice": false}}, "text": {"field": "t"}}},
{"data": {"values": [{"t": "WEST", "a": 270}]}, "mark": {"type": "text", "align": "left", "baseline": "top", "dy": 2.5}, "encoding": {"theta": {"field": "a", "type": "quantitative", "scale": {"domain": [0, 360], "range": [0, 6.2832], "nice": false}}, "radius": {"datum": 15, "type": "quantitative", "scale": {"type": "linear", "domain": [0, 15], "range": [0, 93], "nice": false}}, "text": {"field": "t"}}},
{"data": {"values": [{"t": "F"}]}, "mark": {"type": "text", "font": "Liberation Serif", "fontSize": 22, "color": "#111", "baseline": "middle", "dx": 18.3, "dy": 138.4}, "encoding": {"text": {"field": "t"}}}
]},
{"width": 180, "height": 195, "title": {"text": "Windrose of Moundou from 2005-2014", "dx": 21.3, "offset": 18.1},
"layer": [
{"data": {"values": [{"x1": -6, "x2": 6, "y1": 0, "y2": 0}, {"x1": 0, "x2": 0, "y1": -6, "y2": 6}]}, "mark": {"type": "rule", "stroke": "#444", "strokeWidth": 1, "strokeDash": [1, 2.5]}, "encoding": {"x": {"field": "x1", "type": "quantitative", "scale": {"domain": [-6, 6], "range": [1, 179], "nice": false, "zero": false}, "axis": null}, "x2": {"field": "x2"}, "y": {"field": "y1", "type": "quantitative", "scale": {"domain": [-6, 6], "range": [186.5, 8.5], "nice": false, "zero": false}, "axis": null}, "y2": {"field": "y2"}}},
{"data": {"values": [{"r": 2}, {"r": 4}, {"r": 6}]}, "mark": {"type": "arc", "filled": false, "theta": 0, "theta2": 6.2832, "stroke": "#444", "strokeWidth": 1, "strokeDash": [1, 2.5]}, "encoding": {"radius": {"field": "r", "type": "quantitative", "stack": null, "scale": {"type": "linear", "domain": [0, 6], "range": [0, 89], "nice": false}}}},
{"data": {"name": "rose"}, "transform": [{"filter": "datum.p === 'G'"}, {"flatten": ["v"]}, {"window": [{"op": "row_number", "as": "i"}, {"op": "sum", "field": "v", "as": "r1"}], "groupby": ["d"], "frame": [null, 0]}, {"calculate": "datum.r1 - datum.v", "as": "r0"}, {"calculate": "datum.d - 5", "as": "a0"}, {"calculate": "datum.d + 5", "as": "a1"}],
 "mark": {"type": "arc", "stroke": "black", "strokeWidth": 0.8},
 "encoding": {"theta": {"field": "a0", "type": "quantitative", "stack": null, "scale": {"domain": [0, 360], "range": [0, 6.2832], "nice": false}}, "theta2": {"field": "a1"}, "radius": {"field": "r1", "type": "quantitative", "stack": null, "scale": {"type": "linear", "domain": [0, 6], "range": [0, 89], "nice": false}}, "radius2": {"field": "r0"},
  "color": {"field": "i", "type": "ordinal", "scale": {"domain": [9, 8, 7, 6, 5, 4, 3, 2, 1], "range": ["#7A1616", "#E22A1E", "#F5861E", "#F2E030", "#8EE07E", "#8EE6D6", "#4A82C8", "#2D45A8", "#36298F"]}, "legend": {"orient": "none", "legendX": 189, "legendY": 104.8, "title": null, "labelExpr": "['0 - 1','1 - 2','2 - 3','3 - 4','4 - 5','5 - 6','6 - 7','7 - 8','8 - 9'][datum.value - 1]"}}}},
{"data": {"values": [{}]}, "mark": {"type": "arc", "theta": 0, "theta2": 6.2832, "radius": 4, "fill": "white", "stroke": "black", "strokeWidth": 1}, "encoding": {}},
{"data": {"values": [{"r": 2, "t": "2%"}, {"r": 4, "t": "4%"}, {"r": 6, "t": "6%"}]}, "mark": {"type": "text", "radiusOffset": -7, "fontSize": 8, "color": "white", "stroke": "white", "strokeWidth": 4}, "encoding": {"theta": {"datum": 45, "type": "quantitative", "scale": {"domain": [0, 360], "range": [0, 6.2832], "nice": false}}, "radius": {"field": "r", "type": "quantitative", "stack": null, "scale": {"type": "linear", "domain": [0, 6], "range": [0, 89], "nice": false}}, "text": {"field": "t"}}},
{"data": {"values": [{"r": 2, "t": "2%"}, {"r": 4, "t": "4%"}, {"r": 6, "t": "6%"}]}, "mark": {"type": "text", "radiusOffset": -7, "fontSize": 8, "color": "#222"}, "encoding": {"theta": {"datum": 45, "type": "quantitative", "scale": {"domain": [0, 360], "range": [0, 6.2832], "nice": false}}, "radius": {"field": "r", "type": "quantitative", "stack": null, "scale": {"type": "linear", "domain": [0, 6], "range": [0, 89], "nice": false}}, "text": {"field": "t"}}},
{"data": {"values": [{"t": "NORTH", "a": 0}, {"t": "SOUTH", "a": 180}]}, "mark": {"type": "text", "align": "left", "baseline": "middle", "radiusOffset": -4}, "encoding": {"theta": {"field": "a", "type": "quantitative", "scale": {"domain": [0, 360], "range": [0, 6.2832], "nice": false}}, "radius": {"datum": 6, "type": "quantitative", "scale": {"type": "linear", "domain": [0, 6], "range": [0, 89], "nice": false}}, "text": {"field": "t"}}},
{"data": {"values": [{"t": "EAST", "a": 90}]}, "mark": {"type": "text", "align": "right", "baseline": "top", "dy": 2.5}, "encoding": {"theta": {"field": "a", "type": "quantitative", "scale": {"domain": [0, 360], "range": [0, 6.2832], "nice": false}}, "radius": {"datum": 6, "type": "quantitative", "scale": {"type": "linear", "domain": [0, 6], "range": [0, 89], "nice": false}}, "text": {"field": "t"}}},
{"data": {"values": [{"t": "WEST", "a": 270}]}, "mark": {"type": "text", "align": "left", "baseline": "top", "dy": 2.5}, "encoding": {"theta": {"field": "a", "type": "quantitative", "scale": {"domain": [0, 360], "range": [0, 6.2832], "nice": false}}, "radius": {"datum": 6, "type": "quantitative", "scale": {"type": "linear", "domain": [0, 6], "range": [0, 89], "nice": false}}, "text": {"field": "t"}}},
{"data": {"values": [{"t": "G"}]}, "mark": {"type": "text", "font": "Liberation Serif", "fontSize": 22, "color": "#111", "baseline": "middle", "dx": 20, "dy": 138}, "encoding": {"text": {"field": "t"}}}
]},
{"width": 165.2, "height": 192.2, "title": {"text": "Windrose of Pala from 2005-2014", "dx": 21, "offset": 18.1},
"layer": [
{"data": {"values": [{"x1": -8, "x2": 8, "y1": 0, "y2": 0}, {"x1": 0, "x2": 0, "y1": -8, "y2": 8}]}, "mark": {"type": "rule", "stroke": "#444", "strokeWidth": 1, "strokeDash": [1, 2.5]}, "encoding": {"x": {"field": "x1", "type": "quantitative", "scale": {"domain": [-8, 8], "range": [-5.4, 170.6], "nice": false, "zero": false}, "axis": null}, "x2": {"field": "x2"}, "y": {"field": "y1", "type": "quantitative", "scale": {"domain": [-8, 8], "range": [184.1, 8.1], "nice": false, "zero": false}, "axis": null}, "y2": {"field": "y2"}}},
{"data": {"values": [{"r": 2}, {"r": 4}, {"r": 6}, {"r": 8}]}, "mark": {"type": "arc", "filled": false, "theta": 0, "theta2": 6.2832, "stroke": "#444", "strokeWidth": 1, "strokeDash": [1, 2.5]}, "encoding": {"radius": {"field": "r", "type": "quantitative", "stack": null, "scale": {"type": "linear", "domain": [0, 8], "range": [0, 88], "nice": false}}}},
{"data": {"name": "rose"}, "transform": [{"filter": "datum.p === 'H'"}, {"flatten": ["v"]}, {"window": [{"op": "row_number", "as": "i"}, {"op": "sum", "field": "v", "as": "r1"}], "groupby": ["d"], "frame": [null, 0]}, {"calculate": "datum.r1 - datum.v", "as": "r0"}, {"calculate": "datum.d - 5", "as": "a0"}, {"calculate": "datum.d + 5", "as": "a1"}],
 "mark": {"type": "arc", "stroke": "black", "strokeWidth": 0.8},
 "encoding": {"theta": {"field": "a0", "type": "quantitative", "stack": null, "scale": {"domain": [0, 360], "range": [0, 6.2832], "nice": false}}, "theta2": {"field": "a1"}, "radius": {"field": "r1", "type": "quantitative", "stack": null, "scale": {"type": "linear", "domain": [0, 8], "range": [0, 88], "nice": false}}, "radius2": {"field": "r0"},
  "color": {"field": "i", "type": "ordinal", "scale": {"domain": [9, 8, 7, 6, 5, 4, 3, 2, 1], "range": ["#7A1616", "#E22A1E", "#F5861E", "#F2E030", "#8EE07E", "#8EE6D6", "#4A82C8", "#2D45A8", "#36298F"]}, "legend": {"orient": "none", "legendX": 178.3, "legendY": 103.5, "title": null, "labelExpr": "['0 - 1','1 - 2','2 - 3','3 - 4','4 - 5','5 - 6','6 - 7','7 - 8','8 - 9'][datum.value - 1]"}}}},
{"data": {"values": [{}]}, "mark": {"type": "arc", "theta": 0, "theta2": 6.2832, "radius": 4, "fill": "white", "stroke": "black", "strokeWidth": 1}, "encoding": {}},
{"data": {"values": [{"r": 2, "t": "2%"}, {"r": 4, "t": "4%"}, {"r": 6, "t": "6%"}, {"r": 8, "t": "8%"}]}, "mark": {"type": "text", "radiusOffset": -7, "fontSize": 8, "color": "white", "stroke": "white", "strokeWidth": 4}, "encoding": {"theta": {"datum": 45, "type": "quantitative", "scale": {"domain": [0, 360], "range": [0, 6.2832], "nice": false}}, "radius": {"field": "r", "type": "quantitative", "stack": null, "scale": {"type": "linear", "domain": [0, 8], "range": [0, 88], "nice": false}}, "text": {"field": "t"}}},
{"data": {"values": [{"r": 2, "t": "2%"}, {"r": 4, "t": "4%"}, {"r": 6, "t": "6%"}, {"r": 8, "t": "8%"}]}, "mark": {"type": "text", "radiusOffset": -7, "fontSize": 8, "color": "#222"}, "encoding": {"theta": {"datum": 45, "type": "quantitative", "scale": {"domain": [0, 360], "range": [0, 6.2832], "nice": false}}, "radius": {"field": "r", "type": "quantitative", "stack": null, "scale": {"type": "linear", "domain": [0, 8], "range": [0, 88], "nice": false}}, "text": {"field": "t"}}},
{"data": {"values": [{"t": "NORTH", "a": 0}, {"t": "SOUTH", "a": 180}]}, "mark": {"type": "text", "align": "left", "baseline": "middle", "radiusOffset": -4}, "encoding": {"theta": {"field": "a", "type": "quantitative", "scale": {"domain": [0, 360], "range": [0, 6.2832], "nice": false}}, "radius": {"datum": 8, "type": "quantitative", "scale": {"type": "linear", "domain": [0, 8], "range": [0, 88], "nice": false}}, "text": {"field": "t"}}},
{"data": {"values": [{"t": "EAST", "a": 90}]}, "mark": {"type": "text", "align": "right", "baseline": "top", "dy": 2.5}, "encoding": {"theta": {"field": "a", "type": "quantitative", "scale": {"domain": [0, 360], "range": [0, 6.2832], "nice": false}}, "radius": {"datum": 8, "type": "quantitative", "scale": {"type": "linear", "domain": [0, 8], "range": [0, 88], "nice": false}}, "text": {"field": "t"}}},
{"data": {"values": [{"t": "WEST", "a": 270}]}, "mark": {"type": "text", "align": "left", "baseline": "top", "dy": 2.5}, "encoding": {"theta": {"field": "a", "type": "quantitative", "scale": {"domain": [0, 360], "range": [0, 6.2832], "nice": false}}, "radius": {"datum": 8, "type": "quantitative", "scale": {"type": "linear", "domain": [0, 8], "range": [0, 88], "nice": false}}, "text": {"field": "t"}}},
{"data": {"values": [{"t": "H"}]}, "mark": {"type": "text", "font": "Liberation Serif", "fontSize": 22, "color": "#111", "baseline": "middle", "dx": 25.4, "dy": 137.7}, "encoding": {"text": {"field": "t"}}}
]},
{"width": 160.6, "height": 185, "title": {"text": "Windrose of Sarh from 2005-2014", "dx": 21, "offset": 18.1},
"layer": [
{"data": {"values": [{"x1": -6, "x2": 6, "y1": 0, "y2": 0}, {"x1": 0, "x2": 0, "y1": -6, "y2": 6}]}, "mark": {"type": "rule", "stroke": "#444", "strokeWidth": 1, "strokeDash": [1, 2.5]}, "encoding": {"x": {"field": "x1", "type": "quantitative", "scale": {"domain": [-6, 6], "range": [-6.7, 167.3], "nice": false, "zero": false}, "axis": null}, "x2": {"field": "x2"}, "y": {"field": "y1", "type": "quantitative", "scale": {"domain": [-6, 6], "range": [179.5, 5.5], "nice": false, "zero": false}, "axis": null}, "y2": {"field": "y2"}}},
{"data": {"values": [{"r": 2}, {"r": 4}, {"r": 6}]}, "mark": {"type": "arc", "filled": false, "theta": 0, "theta2": 6.2832, "stroke": "#444", "strokeWidth": 1, "strokeDash": [1, 2.5]}, "encoding": {"radius": {"field": "r", "type": "quantitative", "stack": null, "scale": {"type": "linear", "domain": [0, 6], "range": [0, 87], "nice": false}}}},
{"data": {"name": "rose"}, "transform": [{"filter": "datum.p === 'I'"}, {"flatten": ["v"]}, {"window": [{"op": "row_number", "as": "i"}, {"op": "sum", "field": "v", "as": "r1"}], "groupby": ["d"], "frame": [null, 0]}, {"calculate": "datum.r1 - datum.v", "as": "r0"}, {"calculate": "datum.d - 5", "as": "a0"}, {"calculate": "datum.d + 5", "as": "a1"}],
 "mark": {"type": "arc", "stroke": "black", "strokeWidth": 0.8},
 "encoding": {"theta": {"field": "a0", "type": "quantitative", "stack": null, "scale": {"domain": [0, 360], "range": [0, 6.2832], "nice": false}}, "theta2": {"field": "a1"}, "radius": {"field": "r1", "type": "quantitative", "stack": null, "scale": {"type": "linear", "domain": [0, 6], "range": [0, 87], "nice": false}}, "radius2": {"field": "r0"},
  "color": {"field": "i", "type": "ordinal", "scale": {"domain": [10, 9, 8, 7, 6, 5, 4, 3, 2, 1], "range": ["#7A1616", "#E0281E", "#F06A24", "#FACA12", "#C4E25A", "#88DCAC", "#6ACEE2", "#3A6CBE", "#2B3E9C", "#36298F"]}, "legend": {"orient": "none", "legendX": 175.3, "legendY": 91.5, "title": null, "labelExpr": "['0 - 1','1 - 2','2 - 3','3 - 4','4 - 5','5 - 6','6 - 7','7 - 8','8 - 9','9 - 10'][datum.value - 1]"}}}},
{"data": {"values": [{}]}, "mark": {"type": "arc", "theta": 0, "theta2": 6.2832, "radius": 4, "fill": "white", "stroke": "black", "strokeWidth": 1}, "encoding": {}},
{"data": {"values": [{"r": 2, "t": "2%"}, {"r": 4, "t": "4%"}, {"r": 6, "t": "6%"}]}, "mark": {"type": "text", "radiusOffset": -7, "fontSize": 8, "color": "white", "stroke": "white", "strokeWidth": 4}, "encoding": {"theta": {"datum": 45, "type": "quantitative", "scale": {"domain": [0, 360], "range": [0, 6.2832], "nice": false}}, "radius": {"field": "r", "type": "quantitative", "stack": null, "scale": {"type": "linear", "domain": [0, 6], "range": [0, 87], "nice": false}}, "text": {"field": "t"}}},
{"data": {"values": [{"r": 2, "t": "2%"}, {"r": 4, "t": "4%"}, {"r": 6, "t": "6%"}]}, "mark": {"type": "text", "radiusOffset": -7, "fontSize": 8, "color": "#222"}, "encoding": {"theta": {"datum": 45, "type": "quantitative", "scale": {"domain": [0, 360], "range": [0, 6.2832], "nice": false}}, "radius": {"field": "r", "type": "quantitative", "stack": null, "scale": {"type": "linear", "domain": [0, 6], "range": [0, 87], "nice": false}}, "text": {"field": "t"}}},
{"data": {"values": [{"t": "NORTH", "a": 0}, {"t": "SOUTH", "a": 180}]}, "mark": {"type": "text", "align": "left", "baseline": "middle", "radiusOffset": -4}, "encoding": {"theta": {"field": "a", "type": "quantitative", "scale": {"domain": [0, 360], "range": [0, 6.2832], "nice": false}}, "radius": {"datum": 6, "type": "quantitative", "scale": {"type": "linear", "domain": [0, 6], "range": [0, 87], "nice": false}}, "text": {"field": "t"}}},
{"data": {"values": [{"t": "EAST", "a": 90}]}, "mark": {"type": "text", "align": "right", "baseline": "top", "dy": 2.5}, "encoding": {"theta": {"field": "a", "type": "quantitative", "scale": {"domain": [0, 360], "range": [0, 6.2832], "nice": false}}, "radius": {"datum": 6, "type": "quantitative", "scale": {"type": "linear", "domain": [0, 6], "range": [0, 87], "nice": false}}, "text": {"field": "t"}}},
{"data": {"values": [{"t": "WEST", "a": 270}]}, "mark": {"type": "text", "align": "left", "baseline": "top", "dy": 2.5}, "encoding": {"theta": {"field": "a", "type": "quantitative", "scale": {"domain": [0, 360], "range": [0, 6.2832], "nice": false}}, "radius": {"datum": 6, "type": "quantitative", "scale": {"type": "linear", "domain": [0, 6], "range": [0, 87], "nice": false}}, "text": {"field": "t"}}},
{"data": {"values": [{"t": "I"}]}, "mark": {"type": "text", "font": "Liberation Serif", "fontSize": 22, "color": "#111", "baseline": "middle", "dx": 32.3, "dy": 141.3}, "encoding": {"text": {"field": "t"}}}
]}
],
"columns": 3,
"spacing": {"row": 89, "column": 158.7},
"bounds": "flush",
"resolve": {"scale": {"color": "independent", "radius": "independent", "theta": "independent"}, "legend": {"color": "independent"}},
"config": {
"view": {"stroke": null},
"font": "Liberation Sans, sans-serif",
"title": {"fontSize": 7.8, "fontWeight": "normal", "baseline": "alphabetic", "frame": "group", "color": "#222", "anchor": "middle"},
"text": {"fontSize": 7.5, "color": "#222"},
"legend": {"symbolType": "square", "symbolSize": 56, "symbolStrokeColor": "black", "symbolStrokeWidth": 1, "symbolOpacity": 1, "labelFontSize": 7.5, "labelOffset": 1.5, "rowPadding": 0, "clipHeight": 9, "padding": 0, "labelColor": "#111"}
}
}
